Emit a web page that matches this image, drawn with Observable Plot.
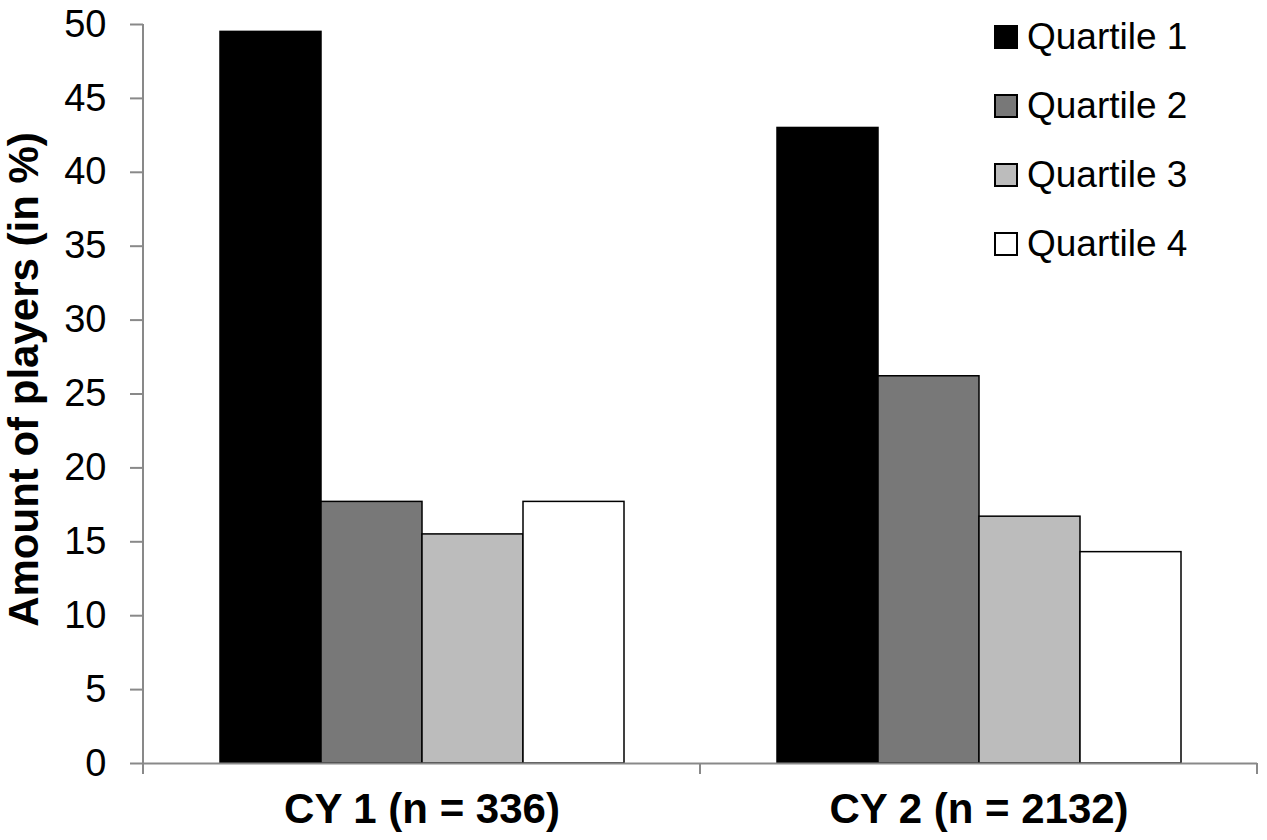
<!DOCTYPE html>
<html>
<head>
<meta charset="utf-8">
<script src="https://cdn.jsdelivr.net/npm/d3@7"></script>
<script src="https://cdn.jsdelivr.net/npm/@observablehq/plot@0.6"></script>
<style>
  html, body { margin: 0; padding: 0; background: white; }
  #wrap { position: relative; width: 1267px; height: 840px; font-family: "Liberation Sans", Arial, Helvetica, sans-serif; }
  #legend { position: absolute; left: 994px; top: 2px; }
  .row { display: flex; align-items: center; height: 69px; }
  .sw { width: 20px; height: 20px; border: 2px solid #000; box-sizing: content-box; margin-right: 9px; }
  .lab { font-size: 37px; color: #000; line-height: 1; }
</style>
</head>
<body>
<div id="wrap"><div id="legend"></div></div>
<script>
const groups = ["CY 1 (n = 336)", "CY 2 (n = 2132)"];
const quartiles = ["Quartile 1", "Quartile 2", "Quartile 3", "Quartile 4"];
const cy1 = [49.5, 17.7, 15.5, 17.7];
const cy2 = [43.0, 26.2, 16.7, 14.3];
const fills = ["#000000", "#787878", "#bcbcbc", "#ffffff"];
const yTicks = [0, 5, 10, 15, 20, 25, 30, 35, 40, 45, 50];
const yLabel = "Amount of players (in %)";

const series = [cy1, cy2];
const data = groups.flatMap((g, i) => quartiles.map((q, j) => ({group: g, quartile: q, value: series[i][j]})));

const plot = Plot.plot({
  width: 1267,
  height: 840,
  marginLeft: 143,
  marginRight: 10,
  marginTop: 24,
  marginBottom: 77,
  style: {fontFamily: "'Liberation Sans', Arial, Helvetica, sans-serif", background: "white", color: "#000"},
  fx: {domain: groups, padding: 0, label: null},
  x: {domain: quartiles, paddingInner: 0, paddingOuter: 0.745, axis: null},
  y: {domain: [0, 50], label: null, axis: null},
  color: {domain: quartiles, range: fills},
  marks: [
    Plot.axisY({ticks: yTicks, tickSize: 13, tickPadding: 24, fontSize: 38, stroke: "#898989", strokeWidth: 2, label: null, fill: "#000"}),
    Plot.axisFx({anchor: "bottom", tickSize: 0, tickPadding: 30, fontSize: 42, fontWeight: "bold", label: null, fill: "#000"}),
    Plot.barY(data, {fx: "group", x: "quartile", y: "value", fill: "quartile", stroke: "#000", strokeWidth: 1.5}),
    Plot.ruleY([0], {stroke: "#898989", strokeWidth: 2})
  ]
});

document.getElementById("wrap").prepend(plot);

// axis line and group separator ticks, positioned from the plot's own scales
const svg = d3.select(plot);
const fx = plot.scale("fx");
const ys = plot.scale("y");
const y0 = ys.apply(0), y50 = ys.apply(50);
const edges = [fx.apply(groups[0]), ...groups.map(g => fx.apply(g) + fx.bandwidth)];
const g = svg.append("g").attr("stroke", "#898989").attr("stroke-width", 2);
g.append("line").attr("x1", edges[0]).attr("x2", edges[0]).attr("y1", y50).attr("y2", y0 + 1);
edges.forEach(x => g.append("line").attr("x1", x).attr("x2", x).attr("y1", y0).attr("y2", y0 + 11));

svg.append("text")
  .attr("transform", `translate(38, ${(y0 + y50) / 2 - 14}) rotate(-90)`)
  .attr("text-anchor", "middle")
  .attr("font-size", 42)
  .attr("font-weight", "bold")
  .attr("fill", "#000")
  .text(yLabel);

// legend
const legend = d3.select("#legend");
quartiles.forEach((q, i) => {
  const row = legend.append("div").attr("class", "row");
  row.append("div").attr("class", "sw").style("background", plot.scale("color").apply(q));
  row.append("div").attr("class", "lab").text(q);
});
</script>
</body>
</html>
